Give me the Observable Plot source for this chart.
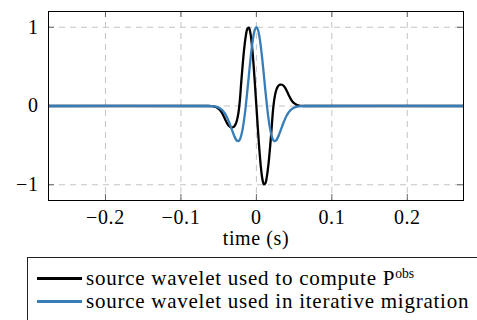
<!DOCTYPE html>
<html><head><meta charset="utf-8">
<script src="https://cdn.jsdelivr.net/npm/d3@7"></script>
<script src="https://cdn.jsdelivr.net/npm/@observablehq/plot@0.6"></script>
<style>
html,body{margin:0;padding:0;background:#fff;overflow:hidden;width:477px;height:320px}
#chart{position:absolute;left:0;top:0}
#legend{position:absolute;left:27px;top:257px;width:470px;height:80px;border:1px solid #222;box-sizing:border-box;font-family:"Liberation Serif",serif;font-size:21px;letter-spacing:0.75px;color:#000}
.row{position:absolute;left:0;height:23px;display:flex;align-items:center;white-space:nowrap}
.sw{width:45px;height:2.5px;margin-left:9px;margin-right:4px}
.row sup{font-size:0.65em;vertical-align:baseline;position:relative;top:-0.55em;letter-spacing:0}
</style></head>
<body><div id="chart"></div><div id="legend"></div>
<script>
// ---- data ----
const time = [-0.28,
 -0.064,-0.062,-0.060,-0.058,-0.056,-0.054,-0.052,-0.050,-0.048,-0.046,-0.044,-0.042,-0.040,-0.038,-0.036,-0.034,-0.032,-0.030,-0.028,-0.026,-0.024,-0.022,-0.020,-0.018,-0.016,-0.014,-0.012,-0.010,-0.008,-0.006,-0.004,-0.002,
 0,
 0.002,0.004,0.006,0.008,0.010,0.012,0.014,0.016,0.018,0.020,0.022,0.024,0.026,0.028,0.030,0.032,0.034,0.036,0.038,0.040,0.042,0.044,0.046,0.048,0.050,0.052,0.054,0.056,0.058,0.060,0.062,0.064,
 0.28];
const waveletObs = [0,
 0,0,-0.001,-0.003,-0.007,-0.013,-0.022,-0.035,-0.055,-0.082,-0.117,-0.157,-0.197,-0.232,-0.257,-0.270,-0.272,-0.265,-0.24,-0.19,-0.10,0.06,0.31,0.54,0.74,0.89,0.98,0.996,0.93,0.78,0.56,0.29,
 0,
 -0.29,-0.56,-0.78,-0.93,-0.996,-0.98,-0.89,-0.74,-0.54,-0.31,-0.06,0.10,0.19,0.24,0.265,0.272,0.270,0.257,0.232,0.197,0.157,0.117,0.082,0.055,0.035,0.022,0.013,0.007,0.003,0.001,0,0,
 0];
const waveletMig = [0,
 0,-0.001,-0.002,-0.003,-0.005,-0.009,-0.014,-0.021,-0.032,-0.046,-0.066,-0.092,-0.124,-0.164,-0.210,-0.261,-0.314,-0.365,-0.408,-0.438,-0.445,-0.426,-0.372,-0.281,-0.154,0.006,0.189,0.384,0.576,0.747,0.882,0.970,
 1,
 0.970,0.882,0.747,0.576,0.384,0.189,0.006,-0.154,-0.281,-0.372,-0.426,-0.445,-0.438,-0.408,-0.365,-0.314,-0.261,-0.210,-0.164,-0.124,-0.092,-0.066,-0.046,-0.032,-0.021,-0.014,-0.009,-0.005,-0.003,-0.002,-0.001,0,
 0];
const seriesNames = ["source wavelet used to compute P<sup>obs</sup>", "source wavelet used in iterative migration"];
const seriesColors = ["#000000", "#377eb8"];
const xTicks = [-0.2, -0.1, 0, 0.1, 0.2];
const xTickLabels = ["\u22120.2", "\u22120.1", "0", "0.1", "0.2"];
const yTicks = [-1, 0, 1];
const yTickLabels = ["\u22121", "0", "1"];
const xLabel = "time (s)";
const xDomain = [-0.2755, 0.2745];
const yDomain = [-1.2, 1.2];

// ---- layout ----
const W = 477, H = 257, mL = 48, mR = 14, mT = 11, mB = 57;
const innerW = W - mL - mR, innerH = H - mT - mB;

const rowsObs = time.map((t, i) => ({t, v: waveletObs[i]}));
const rowsMig = time.map((t, i) => ({t, v: waveletMig[i]}));

const fontStyle = {fontFamily: '"Liberation Serif", serif', fontSize: "20px", background: "#fff", color: "#000", letterSpacing: "0.6px"};

const chart = Plot.plot({
  width: W, height: H,
  marginLeft: mL, marginRight: mR, marginTop: mT, marginBottom: mB,
  style: fontStyle,
  x: {domain: xDomain},
  y: {domain: yDomain},
  marks: [
    Plot.gridX(xTicks, {stroke: "#c4c4c4", strokeOpacity: 1, strokeDasharray: "6,5"}),
    Plot.gridY(yTicks, {stroke: "#c4c4c4", strokeOpacity: 1, strokeDasharray: "6,5"}),
    Plot.tickX(xTicks, {x: d => d, stroke: "#666", insetTop: innerH - 6}),
    Plot.tickX(xTicks, {x: d => d, stroke: "#666", insetBottom: innerH - 6}),
    Plot.tickY(yTicks, {y: d => d, stroke: "#666", insetRight: innerW - 6}),
    Plot.tickY(yTicks, {y: d => d, stroke: "#666", insetLeft: innerW - 6}),
    Plot.line(rowsObs, {x: "t", y: "v", stroke: seriesColors[0], strokeWidth: 2.3, curve: "catmull-rom", clip: true}),
    Plot.line(rowsMig, {x: "t", y: "v", stroke: seriesColors[1], strokeWidth: 2.3, curve: "catmull-rom", clip: true}),
    Plot.frame({stroke: "#000", strokeWidth: 1}),
    Plot.axisX(xTicks, {tickSize: 0, tickPadding: 9, label: null, tickFormat: (d, i) => xTickLabels[i]}),
    Plot.axisY(yTicks, {tickSize: 0, tickPadding: 10, label: null, tickFormat: (d, i) => yTickLabels[i]}),
    Plot.text([xLabel], {frameAnchor: "bottom", dy: 44, fill: "#000"})
  ]
});
document.getElementById("chart").appendChild(chart);

// ---- legend ----
const legend = document.getElementById("legend");
seriesNames.forEach((name, i) => {
  const row = document.createElement("div");
  row.className = "row";
  row.style.top = (9 + i * 23) + "px";
  const sw = document.createElement("span");
  sw.className = "sw";
  sw.style.background = seriesColors[i];
  const tx = document.createElement("span");
  tx.innerHTML = name;
  row.appendChild(sw);
  row.appendChild(tx);
  legend.appendChild(row);
});
</script>
</body></html>
